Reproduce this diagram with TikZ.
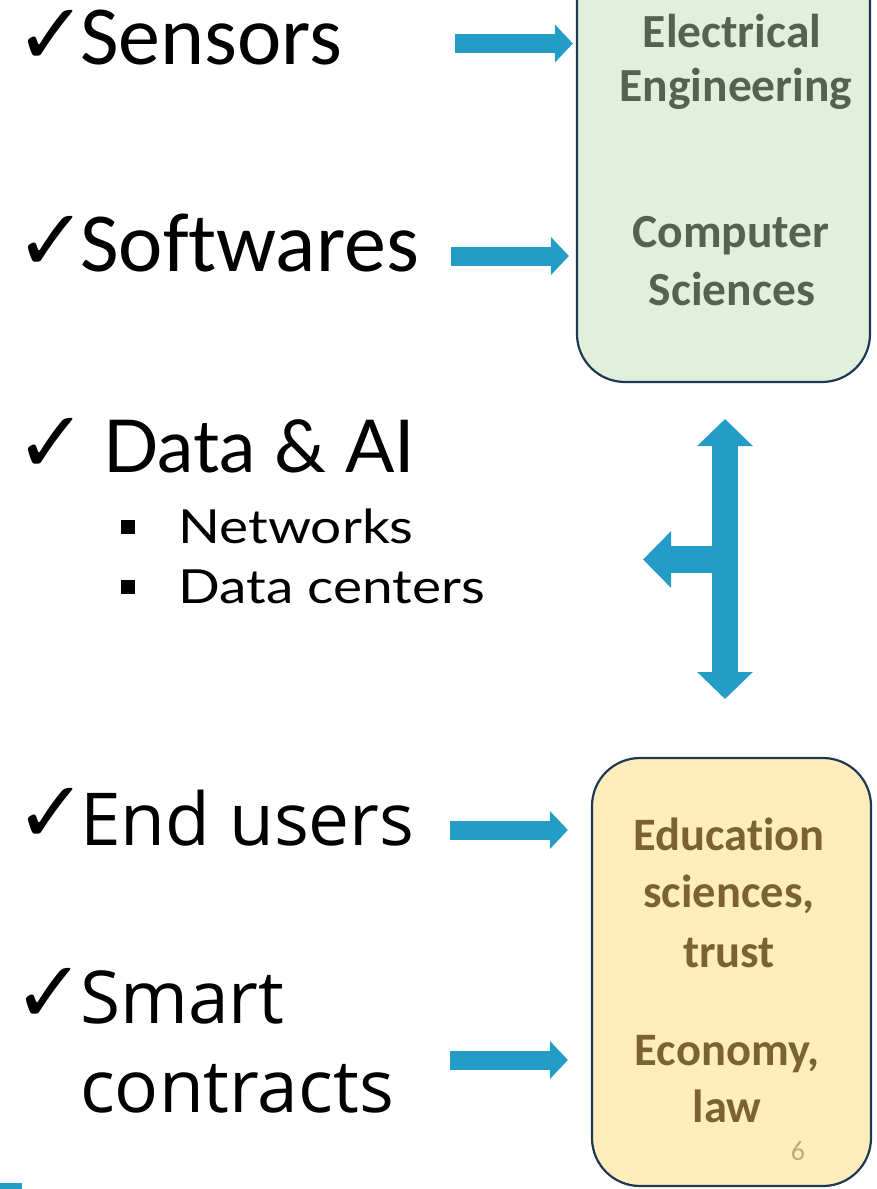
\documentclass[tikz,border=0pt]{standalone}
\usepackage{fontspec}
\setmainfont[Ligatures=NoCommon]{Carlito}
\newfontfamily\gillfont{Lato}
\newfontfamily\gillwide[FakeStretch=1.17]{Lato}
\newfontfamily\segfont{Open Sans}
\newfontfamily\djfont{DejaVu Sans}
\usetikzlibrary{arrows.meta}
\definecolor{arrowblue}{RGB}{35,157,199}
\definecolor{greenfill}{RGB}{226,239,218}
\definecolor{boxedge}{RGB}{31,56,86}
\definecolor{greentext}{RGB}{84,98,78}
\definecolor{yellowfill}{RGB}{255,237,188}
\definecolor{yellowtext}{RGB}{122,99,48}
\definecolor{pagenum}{RGB}{190,170,125}
\begin{document}
\begin{tikzpicture}[x=1pt,y=-1pt,
  calbig/.style={font=\fontsize{84}{90}\selectfont, anchor=base west, inner sep=0pt},
  gillbig/.style={font=\gillfont\fontsize{73}{80}\selectfont, anchor=base west, inner sep=0pt},
  segbig/.style={font=\segfont\fontsize{73}{80}\selectfont, anchor=base west, inner sep=0pt},
  gillsub/.style={font=\gillwide\fontsize{47}{50}\selectfont, anchor=base west, inner sep=0pt},
  chk/.style={font=\djfont\fontsize{86}{86}\selectfont, anchor=base west, inner sep=0pt},
  bulletsq/.style={fill=black, minimum size=14pt, inner sep=0pt},
  gtext/.style={font=\bfseries\fontsize{47.5}{50}\selectfont, text=greentext, anchor=base, inner sep=0pt},
  ytext/.style={font=\bfseries\fontsize{46.5}{50}\selectfont, text=yellowtext, anchor=base, inner sep=0pt},
  hflow/.style={draw=arrowblue, line width=19pt, -{Triangle[width=37pt,length=18pt]}},
  vflow/.style={draw=arrowblue, line width=26pt, {Triangle[width=54pt,length=27pt]}-{Triangle[width=54pt,length=27pt]}},
  bflow/.style={draw=arrowblue, line width=27pt, -{Triangle[width=55pt,length=28pt]}},
  areabox/.style={draw=boxedge, line width=2.2pt, rounded corners=48pt, inner sep=0pt}
]
\useasboundingbox (0,0) rectangle (877,1189);

% boxes
\node[areabox, fill=greenfill, minimum width=293pt, minimum height=432pt] (green) at (723.5,166) {};
\node[areabox, fill=yellowfill, minimum width=279pt, minimum height=428pt] (yellow) at (731.5,972) {};

% green box text
\node[gtext] (elec) at (732,47) {Electrical};
\node[gtext] (eng) at (736,101) {Engineering};
\node[gtext] (comp) at (731,247) {Computer};
\node[gtext] (sci) at (732,305) {Sciences};

% yellow box text
\node[ytext] (edu) at (729,850) {Education};
\node[ytext] (edsci) at (729,907) {sciences,};
\node[ytext] (trust) at (729,967) {trust};
\node[ytext] (econ) at (727,1065) {Economy,};
\node[ytext] (law) at (727,1122) {law};
\node[font=\fontsize{28}{30}\selectfont, text=pagenum, anchor=base, inner sep=0pt] (pnum) at (798,1160) {6};

% left texts
\node[chk] (c1) at (15,64) {✓};
\node[calbig] (sensors) at (80,64) {Sensors};
\node[chk] (c2) at (15,270) {✓};
\node[calbig] (soft) at (80,271) {Softwares};
\node[chk] (c3) at (15,472) {✓};
\node[gillbig] (data) at (103,472) {Data \& AI};
\node[bulletsq] (b1) at (128,527) {};
\node[gillsub] (net) at (178,543) {Networks};
\node[bulletsq] (b2) at (128,587) {};
\node[gillsub] (dc) at (178,603) {Data centers};
\node[chk] (c4) at (15,842) {✓};
\node[segbig] (endu) at (80,845) {End users};
\node[chk] (c5) at (13,1022) {✓};
\node[segbig] (smart) at (80,1023) {Smart};
\node[segbig] (contr) at (80,1112) {contracts};

% arrows
\coordinate (a1) at (455,43.5);
\coordinate (a2) at (451,256);
\coordinate (a3) at (450,830);
\coordinate (a4) at (450,1060);
\draw[hflow, shorten >=3pt] (a1) -- (a1 -| green.west);
\draw[hflow, shorten >=7pt] (a2) -- (a2 -| green.west);
\draw[hflow, shorten >=23pt] (a3) -- (a3 -| yellow.west);
\draw[hflow, shorten >=23pt] (a4) -- (a4 -| yellow.west);

\coordinate (vtop) at (725,419);
\coordinate (vbot) at (725,699);
\coordinate (vmid) at (725,559.5);
\coordinate (vleft) at (643,559.5);
\draw[vflow] (vtop) -- (vbot);
\draw[bflow] (vmid) -- (vleft);

% corner mark
\fill[arrowblue] (0,1183) rectangle (22,1189);
\end{tikzpicture}
\end{document}
